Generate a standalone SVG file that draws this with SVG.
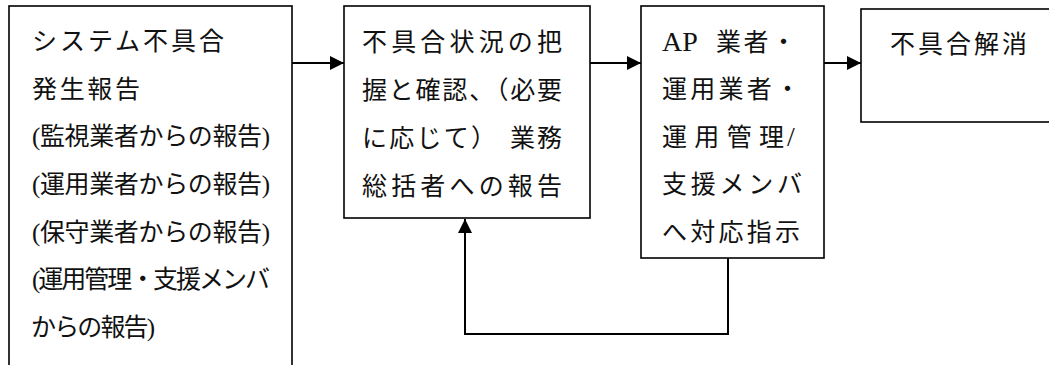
<svg xmlns="http://www.w3.org/2000/svg" width="1049" height="365" viewBox="0 0 1049 365">
  <style>
    .box { fill: #ffffff; stroke: #000000; stroke-width: 1.6; }
    .t { font-family: "Liberation Serif", "Noto Sans CJK JP", serif; font-size: 25px; fill: #111111; }
    .lat { font-family: "Liberation Serif", serif; font-size: 28px; }
    .conn { fill: none; stroke: #000000; stroke-width: 2; }
  </style>
  <defs>
    <marker id="arr" markerUnits="userSpaceOnUse" markerWidth="15" markerHeight="15" refX="14" refY="7.5" orient="auto">
      <path d="M0,0.5 L14,7.5 L0,14.5 z" fill="#000000"/>
    </marker>
  </defs>
  <rect width="1049" height="365" fill="#ffffff"/>

  <g id="node-report">
    <rect class="box" x="9" y="6" width="283" height="380"/>
    <text class="t" x="32" y="50" textLength="192" lengthAdjust="spacing">システム不具合</text>
    <text class="t" x="32" y="98" textLength="108" lengthAdjust="spacing">発生報告</text>
    <text class="t" x="32" y="145" textLength="238" lengthAdjust="spacing">(監視業者からの報告)</text>
    <text class="t" x="32" y="193" textLength="238" lengthAdjust="spacing">(運用業者からの報告)</text>
    <text class="t" x="32" y="241" textLength="238" lengthAdjust="spacing">(保守業者からの報告)</text>
    <text class="t" x="32" y="288" textLength="238" lengthAdjust="spacing">(運用管理・支援メンバ</text>
    <text class="t" x="31" y="336" textLength="124" lengthAdjust="spacing">からの報告)</text>
  </g>

  <g id="node-confirm">
    <rect class="box" x="344" y="6" width="246" height="212"/>
    <text class="t" x="362" y="51" textLength="200" lengthAdjust="spacing">不具合状況の把</text>
    <text class="t" x="362" y="99" textLength="200" lengthAdjust="spacing">握と確認、（必要</text>
    <text class="t" y="147"><tspan x="362" textLength="134" lengthAdjust="spacing">に応じて）</tspan><tspan x="510" textLength="52" lengthAdjust="spacing">業務</tspan></text>
    <text class="t" x="362" y="195" textLength="200" lengthAdjust="spacing">総括者への報告</text>
  </g>

  <g id="node-instruct">
    <rect class="box" x="641" y="6" width="183" height="252"/>
    <text class="t" y="51"><tspan class="lat" x="662">AP</tspan><tspan x="716" textLength="80" lengthAdjust="spacing">業者・</tspan></text>
    <text class="t" x="662" y="98" textLength="138" lengthAdjust="spacing">運用業者・</text>
    <text class="t" y="146"><tspan x="662" textLength="122" lengthAdjust="spacing">運用管理</tspan><tspan x="787" font-size="28">/</tspan></text>
    <text class="t" x="662" y="193" textLength="140" lengthAdjust="spacing">支援メンバ</text>
    <text class="t" x="662" y="241" textLength="138" lengthAdjust="spacing">へ対応指示</text>
  </g>

  <g id="node-resolved">
    <rect class="box" x="861" y="9" width="200" height="113"/>
    <text class="t" x="890" y="53" textLength="137" lengthAdjust="spacing">不具合解消</text>
  </g>

  <g id="connectors">
    <line class="conn" x1="292" y1="63" x2="344" y2="63" marker-end="url(#arr)"/>
    <line class="conn" x1="590" y1="63" x2="641" y2="63" marker-end="url(#arr)"/>
    <line class="conn" x1="824" y1="63" x2="861" y2="63" marker-end="url(#arr)"/>
    <path class="conn" d="M728,258 L728,334 L465,334 L465,219" marker-end="url(#arr)"/>
  </g>
</svg>
